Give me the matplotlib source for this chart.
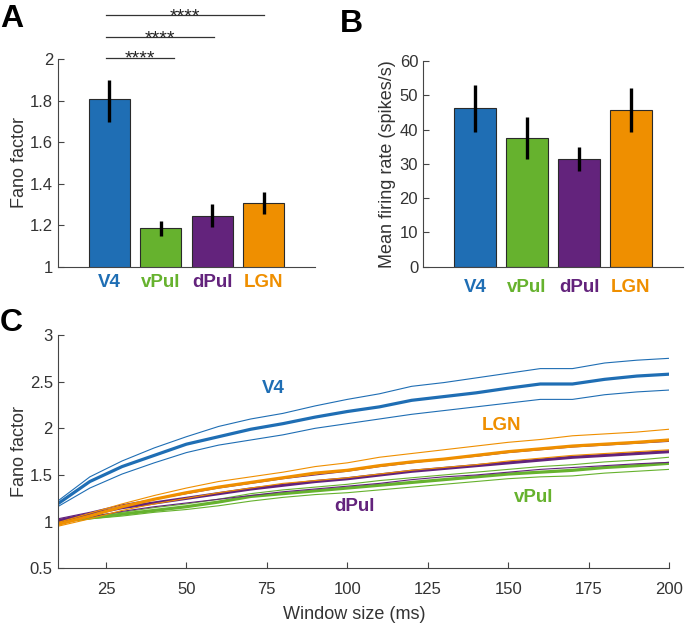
import matplotlib
matplotlib.use('Agg')
import matplotlib.pyplot as plt

plt.rcParams['font.family'] = ['Liberation Sans', 'DejaVu Sans']

# ---------------- data ----------------
areas = ['V4', 'vPul', 'dPul', 'LGN']
area_colors = ['#1F6EB4', '#66B22E', '#63237C', '#EF8F00']

fano_mean = [1.807, 1.185, 1.246, 1.306]
fano_lo = [1.70, 1.15, 1.19, 1.253]
fano_hi = [1.90, 1.22, 1.30, 1.36]

rate_mean = [46.2, 37.45, 31.4, 45.7]
rate_lo = [39.4, 31.4, 28.0, 39.4]
rate_hi = [53.0, 43.6, 35.0, 52.0]

sig_start = [0.94, 0.94, 0.94]
sig_end = [2.26, 3.04, 4.01]
sig_y = [2.008, 2.108, 2.214]
sig_text = ['****', '****', '****']

window = [10, 20, 30, 40, 50, 60, 70, 80, 90, 100,
          110, 120, 130, 140, 150, 160, 170, 180, 190, 200]

v4_mean = [1.19, 1.43, 1.59, 1.71, 1.83, 1.91, 1.99, 2.05, 2.12, 2.18,
           2.23, 2.30, 2.34, 2.38, 2.43, 2.475, 2.475, 2.525, 2.56, 2.58]
v4_hi = [1.22, 1.48, 1.65, 1.79, 1.91, 2.02, 2.10, 2.16, 2.24, 2.31,
         2.37, 2.45, 2.49, 2.54, 2.59, 2.64, 2.64, 2.70, 2.73, 2.75]
v4_lo = [1.16, 1.36, 1.51, 1.63, 1.74, 1.82, 1.875, 1.93, 2.00, 2.05,
         2.10, 2.15, 2.19, 2.23, 2.27, 2.31, 2.31, 2.36, 2.39, 2.41]

vpul_mean = [1.00, 1.04, 1.08, 1.12, 1.16, 1.21, 1.27, 1.30, 1.33, 1.36,
             1.39, 1.42, 1.45, 1.48, 1.51, 1.53, 1.55, 1.58, 1.60, 1.625]
vpul_hi = [1.01, 1.06, 1.10, 1.15, 1.19, 1.24, 1.30, 1.34, 1.37, 1.40,
           1.44, 1.47, 1.50, 1.53, 1.56, 1.59, 1.61, 1.64, 1.66, 1.69]
vpul_lo = [0.99, 1.03, 1.06, 1.10, 1.13, 1.17, 1.22, 1.26, 1.29, 1.31,
           1.34, 1.37, 1.40, 1.43, 1.46, 1.48, 1.49, 1.52, 1.54, 1.56]

dpul_mean = [1.01, 1.08, 1.15, 1.20, 1.25, 1.30, 1.35, 1.39, 1.43, 1.46,
             1.50, 1.54, 1.57, 1.60, 1.63, 1.66, 1.69, 1.71, 1.73, 1.75]
dpul_hi = [1.03, 1.10, 1.18, 1.24, 1.30, 1.36, 1.41, 1.46, 1.50, 1.54,
           1.59, 1.63, 1.67, 1.70, 1.74, 1.77, 1.80, 1.82, 1.84, 1.86]
dpul_lo = [0.99, 1.05, 1.11, 1.16, 1.20, 1.24, 1.28, 1.32, 1.35, 1.38,
           1.41, 1.45, 1.48, 1.50, 1.53, 1.56, 1.58, 1.60, 1.62, 1.635]

lgn_mean = [0.97, 1.06, 1.16, 1.24, 1.31, 1.37, 1.42, 1.47, 1.52, 1.55,
            1.60, 1.64, 1.67, 1.71, 1.75, 1.78, 1.81, 1.83, 1.85, 1.875]
lgn_hi = [0.99, 1.09, 1.19, 1.28, 1.36, 1.43, 1.48, 1.53, 1.59, 1.63,
          1.69, 1.73, 1.77, 1.81, 1.85, 1.88, 1.92, 1.94, 1.96, 1.99]
lgn_lo = [0.95, 1.03, 1.12, 1.19, 1.25, 1.31, 1.36, 1.41, 1.44, 1.47,
          1.51, 1.55, 1.58, 1.61, 1.65, 1.68, 1.71, 1.73, 1.75, 1.77]

curve_label_x = [77, 158, 102.4, 148]
curve_label_y = [2.43, 1.26, 1.16, 2.035]

fano_ticks = [1, 1.2, 1.4, 1.6, 1.8, 2]
fano_ticklabels = ['1', '1.2', '1.4', '1.6', '1.8', '2']
rate_ticks = [0, 10, 20, 30, 40, 50, 60]
win_ticks = [25, 50, 75, 100, 125, 150, 175, 200]
c_yticks = [0.5, 1, 1.5, 2, 2.5, 3]
c_yticklabels = ['0.5', '1', '1.5', '2', '2.5', '3']

# ---------------- figure ----------------
W, H = 685, 623
fig = plt.figure(figsize=(W / 100, H / 100), dpi=100)

AX_COL = '#454545'
TXT_COL = '#333333'


def px_axes(l, t, r, b):
    return fig.add_axes([l / W, 1 - b / H, (r - l) / W, (b - t) / H])


def style(ax):
    for s in ['top', 'right']:
        ax.spines[s].set_visible(False)
    for s in ['left', 'bottom']:
        ax.spines[s].set_color(AX_COL)
        ax.spines[s].set_linewidth(0.8)
    ax.tick_params(colors=AX_COL, labelcolor=TXT_COL, direction='in',
                   length=4, width=0.8, labelsize=12)


positions = [1, 2, 3, 4]

# Panel A
axA = px_axes(58, 59.3, 315, 266.7)
style(axA)
axA.bar(positions, fano_mean, width=0.8, color=area_colors,
        edgecolor='#2a2a2a', linewidth=0.8, bottom=0, zorder=2)
for p, lo, hi in zip(positions, fano_lo, fano_hi):
    axA.plot([p, p], [lo, hi], color='black', lw=2.4, solid_capstyle='butt', zorder=3)
axA.set_xlim(0, 5)
axA.set_ylim(1, 2)
axA.set_yticks(fano_ticks)
axA.set_yticklabels(fano_ticklabels)
axA.tick_params(axis='y', pad=3.5)
axA.set_xticks(positions)
axA.set_xticklabels(areas, fontsize=13.5, fontweight='bold')
axA.tick_params(axis='x', length=0, pad=5)
for lab, c in zip(axA.get_xticklabels(), area_colors):
    lab.set_color(c)
axA.set_ylabel('Fano factor', fontsize=13, color=TXT_COL)
axA.yaxis.set_label_coords(-0.115, 0.5)
for xs, xe, y, t in zip(sig_start, sig_end, sig_y, sig_text):
    axA.plot([xs, xe], [y, y], color='#333333', lw=0.9, clip_on=False)
    axA.annotate(t, xy=((xs + xe) / 2, y), xytext=(0, -4.5),
                 textcoords='offset points', ha='center', va='baseline',
                 fontsize=14, color='#222222', annotation_clip=False)

# Panel B
axB = px_axes(423, 61, 683, 266.7)
style(axB)
axB.bar(positions, rate_mean, width=0.8, color=area_colors,
        edgecolor='#2a2a2a', linewidth=0.8, zorder=2)
for p, lo, hi in zip(positions, rate_lo, rate_hi):
    axB.plot([p, p], [lo, hi], color='black', lw=2.4, solid_capstyle='butt', zorder=3)
axB.set_xlim(0, 5)
axB.set_ylim(0, 60)
axB.set_yticks(rate_ticks)
axB.tick_params(axis='y', pad=3.5)
axB.set_xticks(positions)
axB.set_xticklabels(areas, fontsize=13.5, fontweight='bold')
axB.tick_params(axis='x', length=0, pad=9)
for lab, c in zip(axB.get_xticklabels(), area_colors):
    lab.set_color(c)
axB.set_ylabel('Mean firing rate (spikes/s)', fontsize=13, color=TXT_COL)
axB.yaxis.set_label_coords(-0.104, 0.5)

# Panel C
axC = px_axes(57.7, 335, 669, 568.3)
style(axC)
curves = [(v4_mean, v4_lo, v4_hi), (vpul_mean, vpul_lo, vpul_hi),
          (dpul_mean, dpul_lo, dpul_hi), (lgn_mean, lgn_lo, lgn_hi)]
for (m, lo, hi), c in zip(curves, area_colors):
    axC.plot(window, hi, color=c, lw=0.8)
    axC.plot(window, lo, color=c, lw=0.8)
    axC.plot(window, m, color=c, lw=2.3)
for name, c, x, y in zip(areas, area_colors, curve_label_x, curve_label_y):
    axC.text(x, y, name, color=c, fontsize=13.5, fontweight='bold',
             ha='center', va='center')
axC.set_xlim(10, 200)
axC.set_ylim(0.5, 3)
axC.set_xticks(win_ticks)
axC.set_yticks(c_yticks)
axC.set_yticklabels(c_yticklabels)
axC.tick_params(axis='x', pad=10)
axC.tick_params(axis='y', pad=3.5)
axC.set_xlabel('Window size (ms)', fontsize=13, color=TXT_COL)
axC.xaxis.set_label_coords(0.485, -0.16)
axC.set_ylabel('Fano factor', fontsize=13, color=TXT_COL)
axC.yaxis.set_label_coords(-0.048, 0.5)

# Panel letters
fig.text(0 / W, 1 - 27 / H, 'A', fontsize=23, fontweight='bold', va='baseline', ha='left')
fig.text(340 / W, 1 - 32 / H, 'B', fontsize=23, fontweight='bold', va='baseline', ha='left')
fig.text(0 / W, 1 - 331 / H, 'C', fontsize=23, fontweight='bold', va='baseline', ha='left')

fig.savefig('out.png', dpi=100)
